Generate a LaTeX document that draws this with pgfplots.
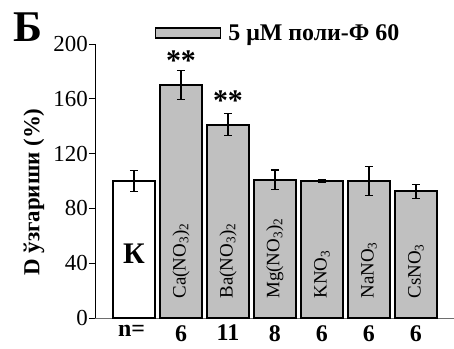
\documentclass[border=0pt]{standalone}
\usepackage{fontspec}
\setmainfont{Liberation Serif}
\usepackage{pgfplots}
\pgfplotsset{compat=1.18}
\definecolor{barGray}{RGB}{192,192,192}
\definecolor{axGray}{RGB}{110,110,110}
\begin{document}
\begin{tikzpicture}
\begin{axis}[
  at={(0,0)}, anchor=south west,
  scale only axis, width=359bp, height=274bp,
  xmin=-0.83, xmax=6.81, ymin=0, ymax=200,
  axis x line=bottom, axis y line=left,
  axis line style={-, line width=0.6pt},
  x axis line style={draw=axGray},
  ytick={0,40,80,120,160,200},
  xtick={0,...,6}, xticklabels={\hspace*{-5bp}n=,6,11,8,6,6,6},
  x tick style={draw=none},
  tick align=outside, y tick style={line width=0.6pt, black}, major tick length=6bp,
  /pgf/number format/assume math mode=true,
  yticklabel style={font=\fontsize{23}{24}\selectfont, inner sep=1bp},
  xticklabel style={font=\fontsize{24}{24}\selectfont\bfseries, inner sep=1bp},
  ylabel={D ўзгариши (\%)},
  every axis y label/.style={at={(rel axis cs:-0.17,0.46)}, rotate=90, anchor=center,
    font=\fontsize{23}{24}\selectfont\bfseries},
  bar width=0.89,
  clip=false,
  legend style={at={(rel axis cs:0.167,1.04)}, anchor=west, draw=none, fill=none,
    font=\fontsize{24}{24}\selectfont\bfseries, inner sep=0pt},
  legend cell align=left,
]
\addplot[ybar, fill=white, draw=black, line width=1.8pt, forget plot,
  error bars/.cd, y dir=both, y explicit,
  error bar style={line width=1.2pt, black}, error mark options={rotate=90, mark size=4bp, line width=1.2pt}]
  coordinates {(0,100) +- (0,7.5)};
\addplot[ybar, fill=barGray, draw=black, line width=1.8pt,
  legend image code/.code={\draw[fill=barGray, draw=black, line width=1.2pt] (0bp,-5bp) rectangle (65bp,5bp);},
  error bars/.cd, y dir=both, y explicit,
  error bar style={line width=1.2pt, black}, error mark options={rotate=90, mark size=4bp, line width=1.2pt}]
  coordinates {(1,170) +- (0,10.5) (2,141) +- (0,8) (3,101) +- (0,7) (4,100) +- (0,1) (5,100) +- (0,10.5) (6,92.5) +- (0,5)};
\addlegendentry{\hspace{5bp}5 μM поли-Ф 60}
\node[font=\fontsize{30}{30}\selectfont\bfseries] at (axis cs:0,47) {К};
\node[rotate=90, anchor=west, inner sep=0pt, font=\fontsize{19}{20}\selectfont] at (axis cs:1,14) {Ca(NO\textsubscript{3})\textsubscript{2}};
\node[rotate=90, anchor=west, inner sep=0pt, font=\fontsize{19}{20}\selectfont] at (axis cs:2,14) {Ba(NO\textsubscript{3})\textsubscript{2}};
\node[rotate=90, anchor=west, inner sep=0pt, font=\fontsize{19}{20}\selectfont] at (axis cs:3,14) {Mg(NO\textsubscript{3})\textsubscript{2}};
\node[rotate=90, anchor=west, inner sep=0pt, font=\fontsize{19}{20}\selectfont] at (axis cs:4,14) {KNO\textsubscript{3}};
\node[rotate=90, anchor=west, inner sep=0pt, font=\fontsize{19}{20}\selectfont] at (axis cs:5,14) {NaNO\textsubscript{3}};
\node[rotate=90, anchor=west, inner sep=0pt, font=\fontsize{19}{20}\selectfont] at (axis cs:6,14) {CsNO\textsubscript{3}};
\node[font=\fontsize{30}{30}\selectfont\bfseries] at (axis cs:1,188) {**};
\node[font=\fontsize{30}{30}\selectfont\bfseries] at (axis cs:2,159) {**};
\node[font=\fontsize{44}{44}\selectfont\bfseries] at (rel axis cs:-0.187,1.06) {Б};
\end{axis}
\pgfresetboundingbox
\useasboundingbox (-95bp,-31bp) rectangle (359bp,318bp);
\end{tikzpicture}
\end{document}
